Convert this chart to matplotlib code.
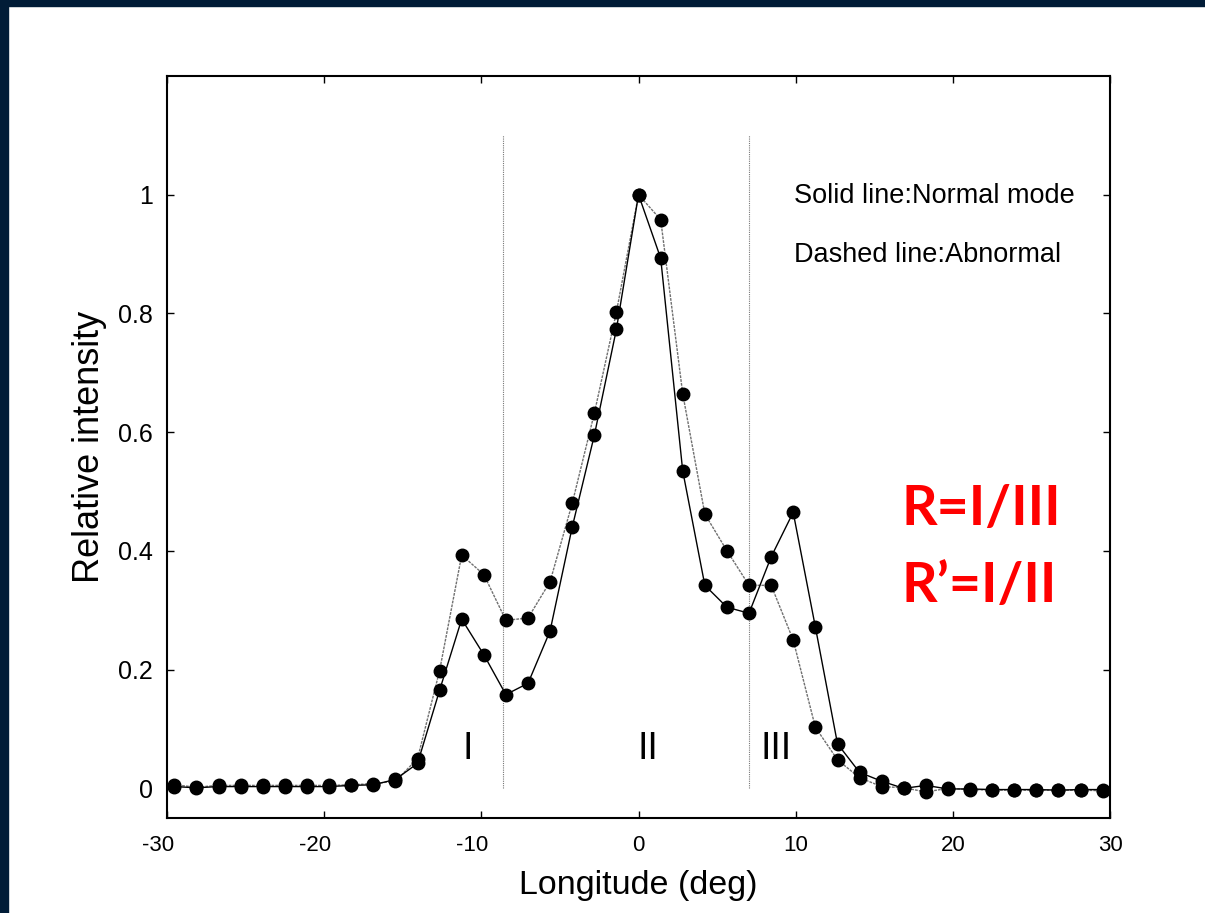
import matplotlib
matplotlib.use('Agg')
import matplotlib.pyplot as plt
from matplotlib.patches import Rectangle
from matplotlib.transforms import ScaledTranslation

plt.rcParams['font.family'] = ['Liberation Sans', 'DejaVu Sans']
plt.rcParams['axes.unicode_minus'] = False

# longitude bins (deg), 360/256 deg wide
longitude = [-29.53, -28.13, -26.72, -25.31, -23.91, -22.50, -21.09, -19.69, -18.28,
             -16.88, -15.47, -14.06, -12.66, -11.25, -9.84, -8.44, -7.03, -5.63, -4.22,
             -2.81, -1.41, 0.0, 1.41, 2.81, 4.22, 5.63, 7.03, 8.44, 9.84, 11.25, 12.66,
             14.06, 15.47, 16.88, 18.28, 19.69, 21.09, 22.50, 23.91, 25.31, 26.72, 28.13, 29.53]

normal_mode = [0.003, 0.001, 0.003, 0.003, 0.003, 0.003, 0.003, 0.003, 0.005,
               0.006, 0.015, 0.042, 0.165, 0.285, 0.225, 0.158, 0.177, 0.265, 0.440,
               0.595, 0.773, 1.000, 0.893, 0.535, 0.342, 0.305, 0.295, 0.390, 0.465, 0.272, 0.075,
               0.027, 0.012, 0.000, 0.005, -0.001, -0.001, -0.002, -0.002, -0.002, -0.003, -0.002, -0.002]

abnormal = [0.006, 0.002, 0.005, 0.005, 0.005, 0.005, 0.005, 0.005, 0.006,
            0.008, 0.012, 0.050, 0.198, 0.393, 0.360, 0.283, 0.287, 0.348, 0.480,
            0.632, 0.802, 1.000, 0.958, 0.665, 0.462, 0.400, 0.342, 0.342, 0.250, 0.103, 0.048,
            0.018, 0.003, 0.001, -0.006, 0.000, -0.002, -0.003, -0.003, -0.003, -0.003, -0.003, -0.004]

boundaries = [-8.6, 7.0]
regions = ['I', 'II', 'III']
region_x = [-10.85, 0.6, 8.75]

xticks = [-30, -20, -10, 0, 10, 20, 30]
yticks = [0, 0.2, 0.4, 0.6, 0.8, 1]
ytick_labels = ['0', '0.2', '0.4', '0.6', '0.8', '1']

fig = plt.figure(figsize=(12.05, 9.13), dpi=100)
ax = fig.add_axes([0.1386, 0.104, 0.9212 - 0.1386, 0.9168 - 0.104])

# navy slide border
fig.patches.append(Rectangle((0, 1 - 6 / 913), 1, 6 / 913, transform=fig.transFigure,
                             color='#011c37', zorder=0))
fig.patches.append(Rectangle((0, 0), 8 / 1205, 1, transform=fig.transFigure,
                             color='#011c37', zorder=0))

for b in boundaries:
    ax.plot([b, b], [0, 1.1], color='#777777', lw=0.8, ls=(0, (1, 1)))

ax.plot(longitude, abnormal, color='#707070', lw=1.0, ls=(0, (2, 0.8)),
        marker='o', ms=9, mfc='black', mec='black')
ax.plot(longitude, normal_mode, color='black', lw=1.0,
        marker='o', ms=9, mfc='black', mec='black')

for lab, xx in zip(regions, region_x):
    ax.text(xx, 0.067, lab, fontsize=27, ha='center', va='center')

ax.text(9.9, 0.998, 'Solid line:Normal mode', fontsize=19.5, va='center')
ax.text(9.9, 0.899, 'Dashed line:Abnormal', fontsize=19.5, va='center')

fig.text(902 / 1205, 1 - 525 / 913, 'R=I/III', color='red', fontsize=40,
         fontweight='bold', family=['Lato', 'DejaVu Sans'], va='baseline')
fig.text(902 / 1205, 1 - 602 / 913, 'R\u2019=I/II', color='red', fontsize=40,
         fontweight='bold', family=['Lato', 'DejaVu Sans'], va='baseline')

ax.set_xlim(-30, 30)
ax.set_ylim(-0.05, 1.2)
ax.set_xticks(xticks)
ax.set_xticklabels([str(t) for t in xticks])
ax.set_yticks(yticks)
ax.set_yticklabels(ytick_labels)
ax.tick_params(direction='in', top=True, right=True, length=5, width=1)
ax.tick_params(axis='x', labelsize=16, pad=12)
ax.tick_params(axis='y', labelsize=18, pad=10)
for s in ax.spines.values():
    s.set_linewidth(1.5)

# MATLAB-style: negative labels hang their minus sign to the left
shift = ScaledTranslation(-9 / 100, 0, fig.dpi_scale_trans)
for lbl in ax.get_xticklabels():
    if lbl.get_text().startswith('-'):
        lbl.set_transform(lbl.get_transform() + shift)

ax.set_xlabel('Longitude (deg)', fontsize=24.5, labelpad=10)
ax.set_ylabel('Relative intensity', fontsize=26, labelpad=8)

fig.savefig('out.png', dpi=100)
